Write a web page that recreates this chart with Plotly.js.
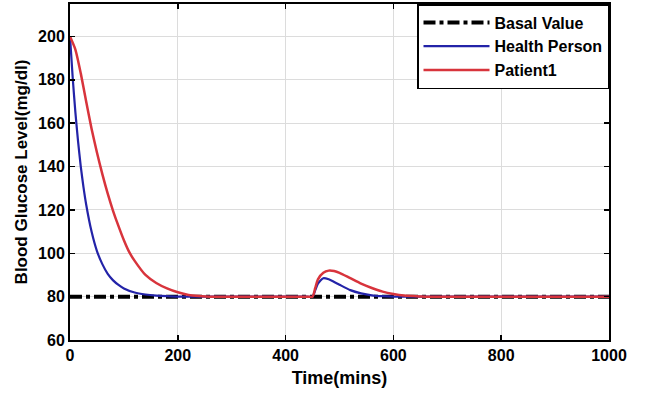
<!DOCTYPE html>
<html>
<head>
<meta charset="utf-8">
<script src="https://cdn.plot.ly/plotly-3.0.1.min.js"></script>
<style>html,body{margin:0;padding:0;background:#fff;}#chart{width:654px;height:395px;}</style>
</head>
<body>
<div id="chart"></div>
<script>
// Basal value
const basalTime = [0, 1000];
const basalValue = [80, 80];

// Health Person
const healthTime = [0, 5, 10, 15, 20, 25, 30, 40, 50, 60, 70, 80, 90, 100, 120, 140, 160, 180, 200, 250, 300, 350, 400, 440, 450, 455, 460, 470, 480, 490, 500, 520, 540, 560, 580, 600, 650, 700, 800, 900, 1000];
const healthValue = [200, 181, 165, 151.5, 140, 130.5, 122.5, 110, 101, 95, 90.5, 87.5, 85.4, 83.8, 81.9, 81, 80.5, 80.2, 80, 80, 80, 80, 80, 80, 80, 83, 86, 88.5, 88, 86.8, 85.5, 83, 81.5, 80.6, 80.2, 80, 80, 80, 80, 80, 80];

// Patient1
const patientTime = [0, 10, 20, 30, 40, 50, 60, 70, 80, 90, 100, 110, 120, 140, 160, 180, 200, 220, 240, 260, 300, 350, 400, 440, 450, 455, 460, 470, 480, 490, 500, 520, 540, 560, 580, 600, 620, 650, 660, 700, 800, 900, 1000];
const patientValue = [200, 194, 183, 170, 157.5, 146.5, 136.5, 127.5, 119.5, 112.5, 106, 100.5, 96.5, 90, 86.3, 83.8, 82, 80.8, 80.3, 80, 80, 80, 80, 80, 80, 84, 88, 91, 92, 91.8, 91, 88.5, 86, 84, 82.3, 81.2, 80.5, 80.1, 80, 80, 80, 80, 80];

const xTicks = [0, 200, 400, 600, 800, 1000];
const yTicks = [60, 80, 100, 120, 140, 160, 180, 200];

const fontFam = 'Liberation Sans, Arial, sans-serif';

const traces = [
  {x: basalTime, y: basalValue, name: 'Basal Value', mode: 'lines',
   line: {color: '#000000', width: 4, dash: 'dashdot'}},
  {x: healthTime, y: healthValue, name: 'Health Person', mode: 'lines',
   line: {color: '#2323a8', width: 2.2, shape: 'spline', smoothing: 0.6}},
  {x: patientTime, y: patientValue, name: 'Patient1', mode: 'lines',
   line: {color: '#d8343c', width: 2.5, shape: 'spline', smoothing: 0.6}}
];

const axisCommon = {
  showline: true, mirror: 'ticks', linecolor: '#000', linewidth: 2,
  ticks: 'inside', ticklen: 5, tickcolor: '#000', tickwidth: 1.5,
  showgrid: true, gridcolor: '#dcdcdc', gridwidth: 1, zeroline: false,
  tickfont: {family: fontFam, size: 16, color: '#000', weight: 'bold'}
};

const layout = {
  width: 654, height: 395,
  margin: {l: 70, r: 45, t: 4, b: 55},
  paper_bgcolor: '#fff', plot_bgcolor: '#fff',
  showlegend: true,
  xaxis: Object.assign({}, axisCommon, {
    range: [0, 1000], tickvals: xTicks, ticktext: xTicks.map(String),
    title: {text: 'Time(mins)', standoff: 8, font: {family: fontFam, size: 18, color: '#000', weight: 'bold'}}
  }),
  yaxis: Object.assign({}, axisCommon, {
    range: [60, 215], tickvals: yTicks, ticktext: yTicks.map(String),
    title: {text: 'Blood Glucose Level(mg/dl)', standoff: 6, font: {family: fontFam, size: 17, color: '#000', weight: 'bold'}}
  }),
  legend: {
    x: 1, y: 1, xanchor: 'right', yanchor: 'top',
    bgcolor: '#fff', bordercolor: '#000', borderwidth: 1.5,
    itemwidth: 66, tracegroupgap: 0,
    font: {family: fontFam, size: 16, color: '#000', weight: 'bold'}
  }
};

Plotly.newPlot('chart', traces, layout, {displayModeBar: false, staticPlot: true});
</script>
</body>
</html>
